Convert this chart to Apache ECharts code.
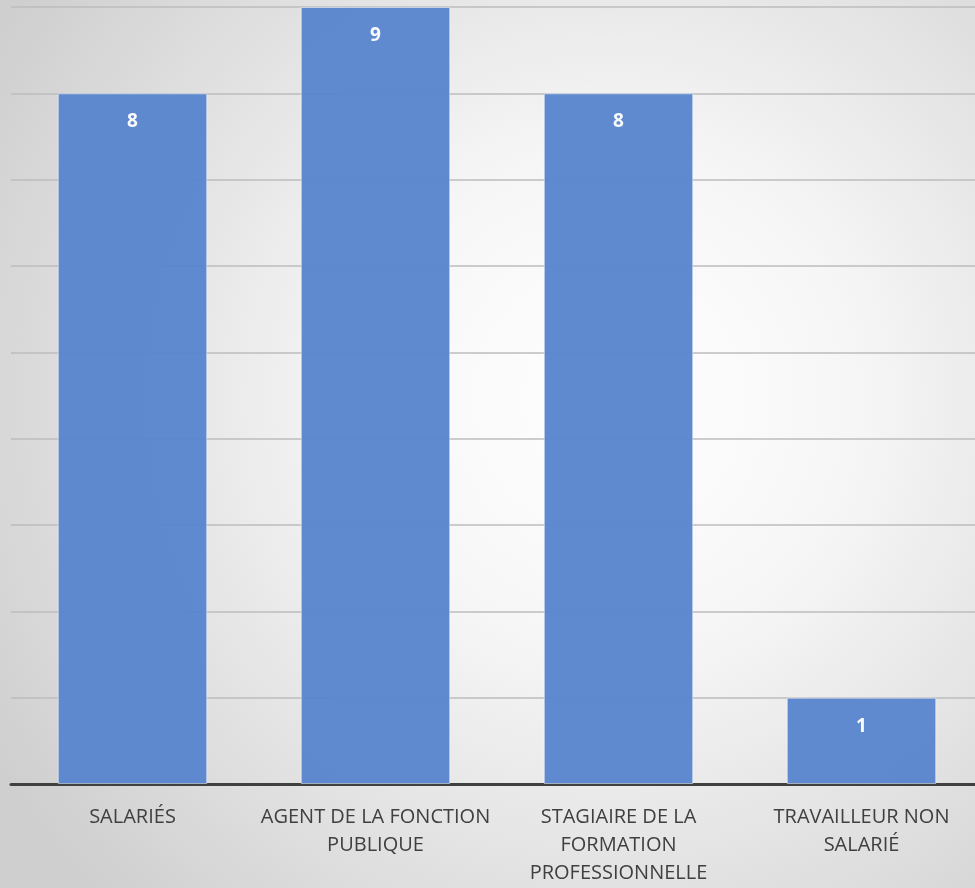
<!DOCTYPE html>
<html><head><meta charset="utf-8">
<script src="https://cdn.jsdelivr.net/npm/echarts@6/dist/echarts.min.js"></script>
<style>html,body{margin:0;padding:0;overflow:hidden;width:975px;height:888px;}#c{width:984px;height:888px;}</style>
</head><body><div id="c"></div>
<script>
const categories = ['SALARIÉS', 'AGENT DE LA FONCTION\nPUBLIQUE', 'STAGIAIRE DE LA\nFORMATION\nPROFESSIONNELLE', 'TRAVAILLEUR NON\nSALARIÉ'];
const values = [8, 9, 8, 1];
const yMin = 0, yMax = 9, yStep = 1;

const chart = echarts.init(document.getElementById('c'), null, {renderer: 'canvas'});
chart.setOption({
  animation: false,
  backgroundColor: {
    type: 'radial', x: 0.62, y: 0.45, r: 0.8,
    colorStops: [{offset: 0, color: '#ffffff'}, {offset: 0.35, color: '#f6f6f6'}, {offset: 1, color: '#cfcfcf'}]
  },
  grid: {left: 11, right: 1, top: 7, bottom: 104, containLabel: false},
  xAxis: {
    type: 'category', data: categories,
    axisLine: {lineStyle: {color: '#404040', width: 3}},
    axisTick: {show: false},
    axisLabel: {color: '#404040', fontFamily: 'Open Sans', fontSize: 20, lineHeight: 28, margin: 19, interval: 0, align: 'center'}
  },
  yAxis: {
    type: 'value', min: yMin, max: yMax, interval: yStep,
    axisLine: {show: false}, axisTick: {show: false}, axisLabel: {show: false},
    splitLine: {lineStyle: {color: '#bdbdbd', width: 1.5}}
  },
  series: [{
    type: 'bar', data: values, barWidth: '61.5%',
    itemStyle: {color: '#5b86cd', borderColor: 'rgba(255,255,255,0.5)', borderWidth: 1, opacity: 0.97},
    label: {show: true, position: 'insideTop', distance: 19, color: '#ffffff', fontFamily: 'Open Sans', fontWeight: 'bold', fontSize: 19}
  }]
});
</script></body></html>
